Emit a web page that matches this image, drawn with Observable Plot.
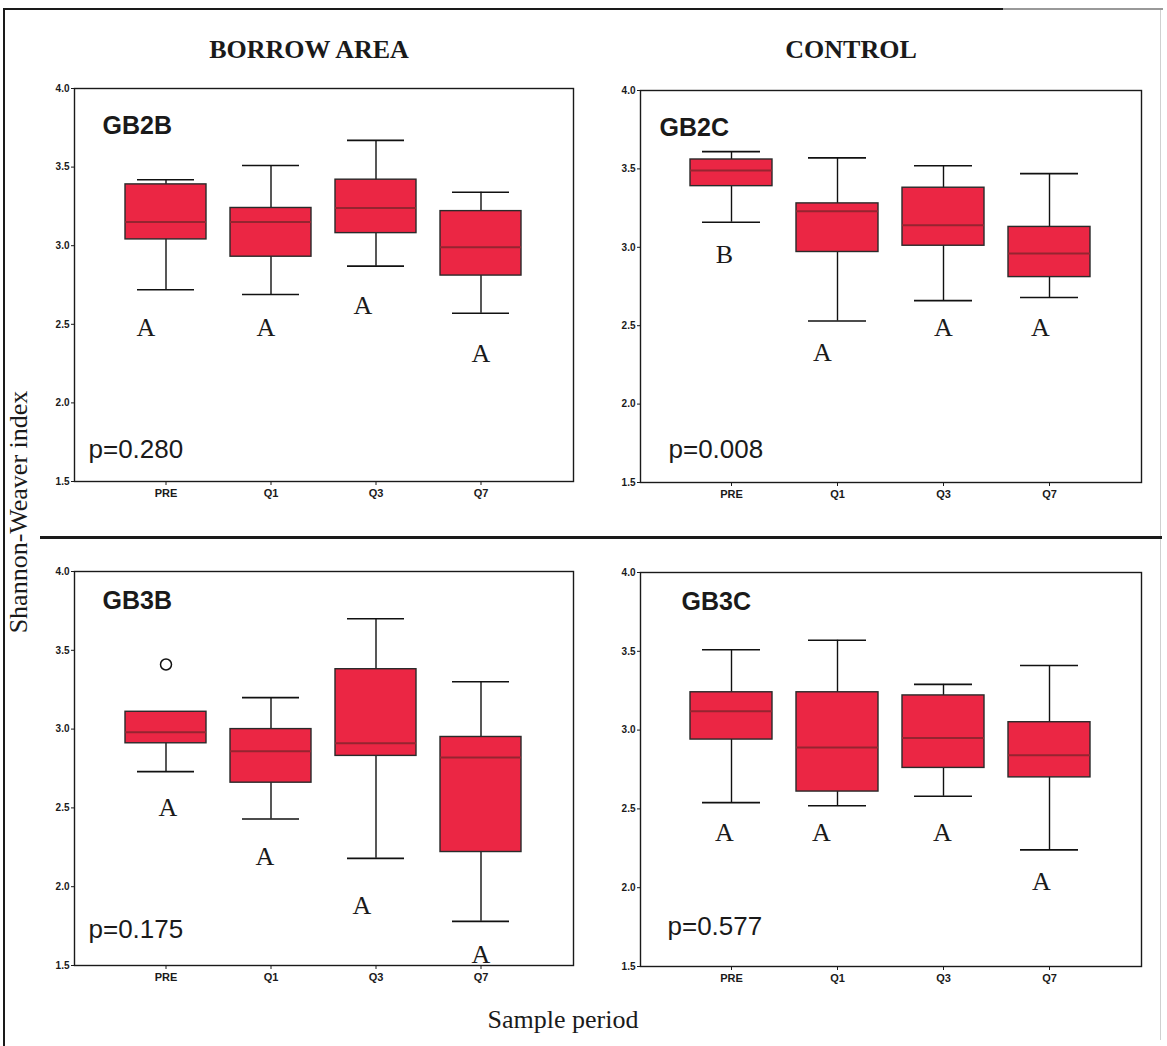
<!DOCTYPE html>
<html>
<head>
<meta charset="utf-8">
<script src="https://cdn.jsdelivr.net/npm/d3@7"></script>
<script src="https://cdn.jsdelivr.net/npm/@observablehq/plot@0.6"></script>
<style>
  body { margin: 0; background: #fff; }
  #page { position: relative; width: 1167px; height: 1046px; overflow: hidden; background: #fff; }
  .abs { position: absolute; }
  .serif { font-family: "Liberation Serif", "Times New Roman", serif; color: #1a1a1a; white-space: nowrap; }
  .line { position: absolute; background: #1a1a1a; }
</style>
</head>
<body>
<div id="page">
  <div class="line" style="left:3px;top:8px;width:1000px;height:2px;"></div>
  <div class="line" style="left:1003px;top:8px;width:160px;height:2px;background:#999;"></div>
  <div class="line" style="left:3px;top:8px;width:2px;height:1038px;"></div>
  <div class="line" style="left:1160px;top:10px;width:1px;height:1030px;background:#d0d0d0;"></div>
  <div class="line" style="left:40px;top:536px;width:1122px;height:2.5px;"></div>
  <div class="abs serif" style="left:309px;top:50px;transform:translate(-50%,-50%);font-size:26px;font-weight:bold;">BORROW AREA</div>
  <div class="abs serif" style="left:851px;top:50px;transform:translate(-50%,-50%);font-size:26px;font-weight:bold;">CONTROL</div>
  <div class="abs serif" style="left:19px;top:512px;transform:translate(-50%,-50%) rotate(-90deg);font-size:26px;">Shannon-Weaver index</div>
  <div class="abs serif" style="left:563px;top:1020px;transform:translate(-50%,-50%);font-size:26px;">Sample period</div>
</div>
<script>
// ---- Data ----
const periods = ["PRE", "Q1", "Q3", "Q7"];
const panelNames = ["GB2B", "GB2C", "GB3B", "GB3C"];
const pValues = ["p=0.280", "p=0.008", "p=0.175", "p=0.577"];
const whiskerLow  = [[2.72, 2.69, 2.87, 2.57], [3.16, 2.53, 2.66, 2.68], [2.73, 2.43, 2.18, 1.78], [2.54, 2.52, 2.58, 2.24]];
const quartile1   = [[3.04, 2.93, 3.08, 2.81], [3.39, 2.97, 3.01, 2.81], [2.91, 2.66, 2.83, 2.22], [2.94, 2.61, 2.76, 2.70]];
const medians     = [[3.15, 3.15, 3.24, 2.99], [3.49, 3.23, 3.14, 2.96], [2.98, 2.86, 2.91, 2.82], [3.12, 2.89, 2.95, 2.84]];
const quartile3   = [[3.39, 3.24, 3.42, 3.22], [3.56, 3.28, 3.38, 3.13], [3.11, 3.00, 3.38, 2.95], [3.24, 3.24, 3.22, 3.05]];
const whiskerHigh = [[3.42, 3.51, 3.67, 3.34], [3.61, 3.57, 3.52, 3.47], [3.11, 3.20, 3.70, 3.30], [3.51, 3.57, 3.29, 3.41]];
const groupLetters = [["A", "A", "A", "A"], ["B", "A", "A", "A"], ["A", "A", "A", "A"], ["A", "A", "A", "A"]];
const letterValues = [[2.48, 2.48, 2.62, 2.31], [2.95, 2.33, 2.49, 2.49], [2.50, 2.19, 1.88, 1.57], [2.35, 2.35, 2.35, 2.04]];
const outlierPeriods = [[], [], ["PRE"], []];
const outlierValues = [[], [], [3.41], []];
const panelLabelValues = [3.76, 3.76, 3.81, 3.81];
const pLabelValues = [1.70, 1.71, 1.73, 1.75];
const yTicks = [1.5, 2.0, 2.5, 3.0, 3.5, 4.0];

// ---- Layout (pixels, not data) ----
const M = {left: 40, top: 12, right: 12, bottom: 30};
const layout = [
  {left: 34,  top: 76,  fw: 499, fh: 393, nameDx: 28, pDx: 14, letterDx: [-20, -5, -13, 0]},
  {left: 600, top: 78,  fw: 501, fh: 392, nameDx: 19, pDx: 28, letterDx: [-7, -15, 0, -9]},
  {left: 34,  top: 559, fw: 499, fh: 394, nameDx: 28, pDx: 14, letterDx: [2, -6, -14, 0]},
  {left: 600, top: 560, fw: 501, fh: 394, nameDx: 41, pDx: 27, letterDx: [-7, -16, -1, -8]}
];
const boxFill = "#eb2644";
const page = document.getElementById("page");

panelNames.forEach((name, k) => {
  const L = layout[k];
  const rows = periods.map((p, i) => ({
    period: p,
    low: whiskerLow[k][i], q1: quartile1[k][i], median: medians[k][i],
    q3: quartile3[k][i], high: whiskerHigh[k][i],
    letter: groupLetters[k][i], letterY: letterValues[k][i]
  }));
  const outs = outlierPeriods[k].map((p, i) => ({period: p, value: outlierValues[k][i]}));
  const letterMarks = rows.map((r, i) =>
    Plot.text([r], {x: "period", y: "letterY", text: "letter", dx: L.letterDx[i],
      fontFamily: "Liberation Serif, Times New Roman, serif", fontSize: 26, fill: "#1a1a1a", lineAnchor: "middle"}));
  const chart = Plot.plot({
    width: M.left + L.fw + M.right,
    height: M.top + L.fh + M.bottom,
    marginLeft: M.left, marginTop: M.top, marginRight: M.right, marginBottom: M.bottom,
    style: {background: "transparent", color: "#1a1a1a", overflow: "visible"},
    x: {type: "band", domain: periods, paddingInner: 0.226, paddingOuter: 0.467},
    y: {domain: [1.5, 4.0]},
    marks: [
      Plot.ruleX(rows, {x: "period", y1: "low", y2: "high", stroke: "#111", strokeWidth: 1.4}),
      Plot.tickY(rows, {x: "period", y: "high", stroke: "#111", strokeWidth: 1.6, insetLeft: 12, insetRight: 12}),
      Plot.tickY(rows, {x: "period", y: "low", stroke: "#111", strokeWidth: 1.6, insetLeft: 12, insetRight: 12}),
      Plot.barY(rows, {x: "period", y1: "q1", y2: "q3", fill: boxFill, stroke: "#2a2a2a", strokeWidth: 1.4}),
      Plot.tickY(rows, {x: "period", y: "median", stroke: "#962430", strokeWidth: 2}),
      Plot.dot(outs, {x: "period", y: "value", r: 5.5, fill: "white", stroke: "#111", strokeWidth: 1.5}),
      ...letterMarks,
      Plot.text([name], {frameAnchor: "left", y: () => panelLabelValues[k], text: d => d, dx: L.nameDx, textAnchor: "start", lineAnchor: "middle", fontFamily: "Liberation Sans, Arial, sans-serif", fontWeight: "bold", fontSize: 25, fill: "#1a1a1a"}),
      Plot.text([pValues[k]], {frameAnchor: "left", y: () => pLabelValues[k], text: d => d, dx: L.pDx, textAnchor: "start", lineAnchor: "middle", fontFamily: "Liberation Sans, Arial, sans-serif", fontSize: 26, fill: "#1a1a1a"}),
      Plot.frame({stroke: "#1a1a1a", strokeWidth: 1.4}),
      Plot.axisY(yTicks, {tickFormat: d3.format(".1f"), tickSize: 3, tickPadding: 2, fontSize: 10, fontWeight: "bold", fontFamily: "Liberation Sans, Arial, sans-serif", label: null}),
      Plot.axisX({tickSize: 4, tickPadding: 4, fontSize: 11, fontWeight: "bold", fontFamily: "Liberation Sans, Arial, sans-serif", label: null})
    ]
  });
  chart.style.position = "absolute";
  chart.style.left = L.left + "px";
  chart.style.top = L.top + "px";
  page.appendChild(chart);
});
</script>
</body>
</html>
